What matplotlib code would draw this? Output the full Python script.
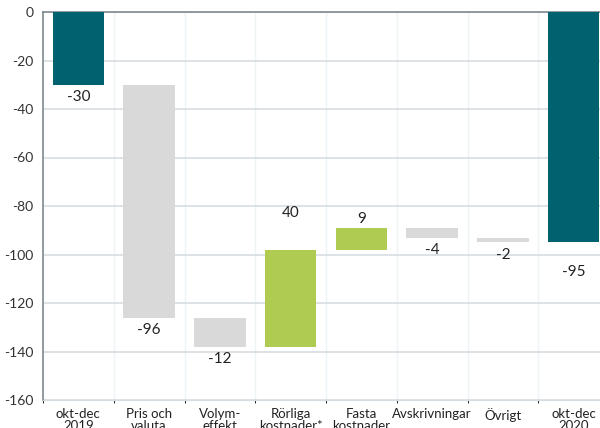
import matplotlib
matplotlib.use("Agg")
import matplotlib.pyplot as plt
import numpy as np

plt.rcParams['font.family'] = ['Lato', 'DejaVu Sans']

categories = ['okt-dec\n2019', 'Pris och\nvaluta', 'Volym-\neffekt', 'Rörliga\nkostnader*',
              'Fasta\nkostnader', 'Avskrivningar', 'Övrigt', 'okt-dec\n2020']
changes = [-30, -96, -12, 40, 9, -4, -2]
end_value = -95
y_ticks = [0, -20, -40, -60, -80, -100, -120, -140, -160]

teal = '#00616f'
gray = '#d9d9d9'
green = '#b0cb52'

# waterfall geometry from the changes
bottoms = []
heights = []
colors = []
running = 0
for i, c in enumerate(changes):
    if i == 0:
        bottoms.append(0)
        heights.append(c)
        colors.append(teal)
    else:
        bottoms.append(running)
        heights.append(c)
        colors.append(green if c > 0 else gray)
    running += c
bottoms.append(0)
heights.append(end_value)
colors.append(teal)
values = changes + [end_value]

fig = plt.figure(figsize=(6, 4.28), dpi=100)
ax = fig.add_axes([43 / 600, 28 / 428, 566 / 600, 388 / 428])

x = np.arange(len(categories))
ax.bar(x, heights, bottom=bottoms, width=0.73, color=colors, zorder=3)

# extra nudges (points) so labels look like the original
nudge = {3: 20, 7: 12}
for i, (b, h, v) in enumerate(zip(bottoms, heights, values)):
    extra = nudge.get(i, 0)
    if v > 0:
        ax.annotate(str(v), (x[i], b + h), xytext=(0, 1 + extra), textcoords='offset points',
                    ha='center', va='bottom', fontsize=11, color='#222222', zorder=4)
    else:
        ax.annotate(str(v), (x[i], b + h), xytext=(0, -4 - extra), textcoords='offset points',
                    ha='center', va='top', fontsize=11, color='#222222', zorder=4)

ax.set_xlim(-0.5, len(categories) - 0.5)
ax.set_ylim(-160, 0)
ax.set_yticks(y_ticks)
ax.set_yticklabels([str(t) for t in y_ticks])
ax.set_xticks(x)
ax.set_xticklabels(categories, fontsize=9.5, color='#222222', linespacing=0.95)
ax.tick_params(axis='y', labelsize=10, colors='#333333', length=0, pad=7)
ax.tick_params(axis='x', length=0, pad=6)

ax.set_xticks(np.arange(len(categories) + 1) - 0.5, minor=True)
ax.grid(axis='y', color='#d5dde2', linewidth=1.2, zorder=0)
ax.grid(axis='x', which='minor', color='#eef3f6', linewidth=1, zorder=0)
ax.grid(axis='x', which='major', visible=False)

for s in ['left', 'top']:
    ax.spines[s].set_color('#7f8a8f')
    ax.spines[s].set_linewidth(1.2)
ax.spines['right'].set_visible(False)
ax.spines['bottom'].set_color('#d5dde2')

fig.savefig('out.png', dpi=100)
